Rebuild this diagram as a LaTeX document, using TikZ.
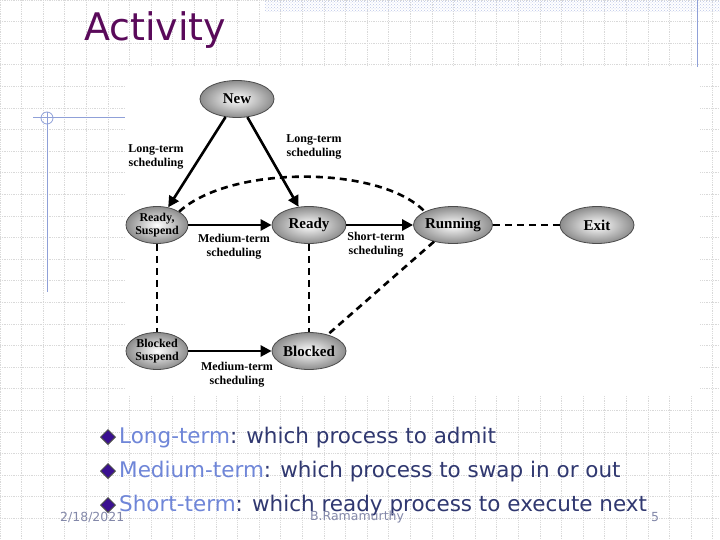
\documentclass[tikz,border=0pt]{standalone}
\usepackage{fontspec}
\setmainfont{Liberation Serif}
\newfontfamily\slidefont{DejaVu Sans}
\usetikzlibrary{shapes.geometric,arrows.meta,patterns}
\definecolor{titlepurple}{HTML}{5A0A5A}
\definecolor{bodyblue}{HTML}{303870}
\definecolor{keyblue}{HTML}{6F86D8}
\definecolor{bulletpurple}{HTML}{3A1090}
\definecolor{decoblue}{HTML}{8FA0D8}
\tikzset{
  state/.style={ellipse, draw=black!70, thick, inner color=white, outer color=black!45,
    minimum width=74pt, minimum height=37pt, inner sep=0pt, font=\bfseries\fontsize{15}{15}\selectfont, align=center},
  small/.style={state, minimum width=62pt, font=\bfseries\fontsize{12}{12.5}\selectfont},
  solidarrow/.style={line width=2.6pt, -{Triangle[length=11pt,width=11pt]}},
  dasharrow/.style={line width=2.6pt, dash pattern=on 7pt off 5pt},
  lbl/.style={font=\bfseries\fontsize{12}{14}\selectfont, align=center},
  bulletline/.style={anchor=west, font=\slidefont\fontsize{21.5}{23}\selectfont, text=bodyblue, inner sep=0pt},
  bul/.style={diamond, draw=black!70, fill=bulletpurple, inner sep=0pt, minimum size=15pt, line width=1pt},
  foot/.style={font=\slidefont\fontsize{12.5}{13}\selectfont, text=bodyblue!60, inner sep=0pt}
}
\begin{document}
\begin{tikzpicture}[x=1pt,y=-1pt]
\useasboundingbox (0,0) rectangle (720,540);
\fill[white] (0,0) rectangle (720,540);
% grid
\foreach \k in {0,...,33} {\draw[black!15, densely dotted, line width=0.8pt] (\k*21.6,0) -- (\k*21.6,540);}
\foreach \k in {0,...,25} {\draw[black!15, densely dotted, line width=0.8pt] (0,\k*21.6) -- (720,\k*21.6);}
% banner
\fill[pattern=crosshatch dots, pattern color=decoblue!60] (265,0) rectangle (720,12);
\draw[decoblue, line width=1pt] (697,0) -- (697,186);
% left decoration
\draw[decoblue, line width=1pt] (33,118) -- (125,118);
\draw[decoblue, line width=1pt] (47,112) -- (47,292);
\draw[decoblue, line width=0.8pt] (47,118) circle (6);
% title
\node[anchor=west, text=titlepurple, font=\slidefont\fontsize{38}{40}\selectfont, inner sep=0pt] (title) at (84,30) {Activity};
% diagram background
\fill[white] (125,67) rectangle (700,395);
% nodes
\node[state] (new) at (237,99) {New};
\node[small] (rs) at (157,225) {Ready,\\Suspend};
\node[state] (ready) at (309,225) {Ready};
\node[state] (run) at (453,225) {Running};
\node[state] (exit) at (597,225) {Exit};
\node[small] (bs) at (157,351) {Blocked\\Suspend};
\node[state] (blk) at (309,351) {Blocked};
% edges
\draw[solidarrow] (new) -- (rs);
\draw[solidarrow] (new) -- (ready);
\draw[solidarrow] (rs) -- (ready);
\draw[solidarrow] (ready) -- (run);
\draw[solidarrow] (bs) -- (blk);
\draw[dasharrow] (run) -- (exit);
\draw[dasharrow] (rs) -- (bs);
\draw[dasharrow] (ready) -- (blk);
\draw[dasharrow] (run) -- (blk);
\draw[dasharrow] (rs.north east) .. controls (230,165) and (380,165) .. (run.north west);
% labels
\node[lbl] (l1) at (156,157) {Long-term\\scheduling};
\node[lbl] (l2) at (314,147) {Long-term\\scheduling};
\node[lbl] (l3) at (234,247) {Medium-term\\scheduling};
\node[lbl] (l4) at (376,245) {Short-term\\scheduling};
\node[lbl] (l5) at (237,375) {Medium-term\\scheduling};
% bullets
\node[bul] (b1) at (108,437) {};
\node[bulletline] (t1) at (119,438) {\textcolor{keyblue}{Long-term}: which process to admit};
\node[bul] (b2) at (108,471) {};
\node[bulletline] (t2) at (119,472) {\textcolor{keyblue}{Medium-term}: which process to swap in or out};
\node[bul] (b3) at (108,505) {};
\node[bulletline] (t3) at (119,506) {\textcolor{keyblue}{Short-term}: which ready process to execute next};
% footer
\node[foot, anchor=west] (date) at (60,517) {2/18/2021};
\node[foot] (auth) at (357,517) {B.Ramamurthy};
\node[foot] (pg) at (655,517) {5};
\end{tikzpicture}
\end{document}
